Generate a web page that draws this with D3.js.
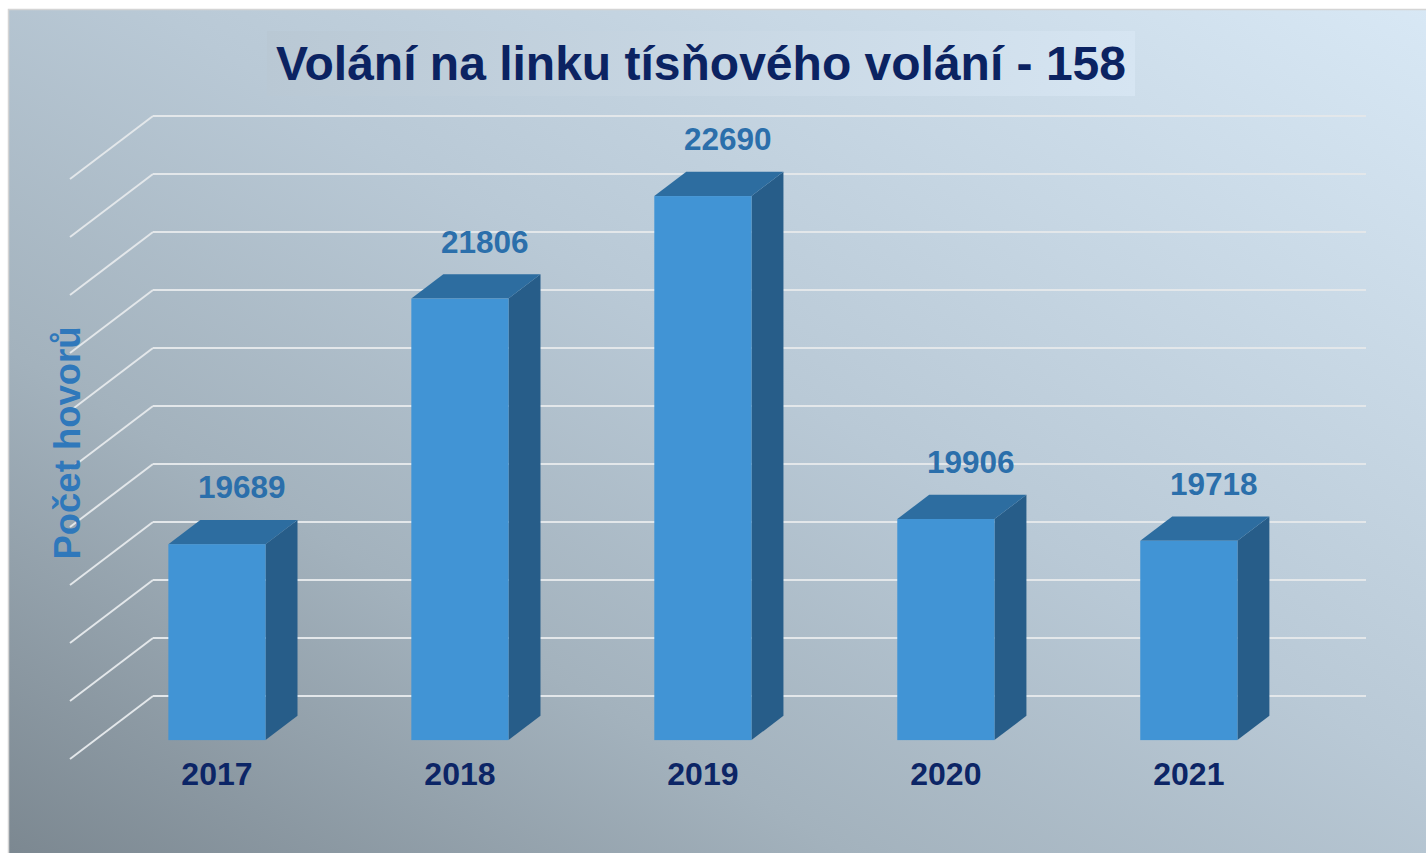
<!DOCTYPE html>
<html>
<head>
<meta charset="utf-8">
<script src="https://cdn.jsdelivr.net/npm/d3@7"></script>
<style>
  body { margin: 0; background: #fff; }
  svg { display: block; }
</style>
</head>
<body>
<script>
// data
var years = ["2017", "2018", "2019", "2020", "2021"];
var calls = [19689, 21806, 22690, 19906, 19718];
var title = "Volání na linku tísňového volání - 158";
var yLabel = "Počet hovorů";

var W = 1426, H = 853;

var svg = d3.select("body").append("svg")
    .attr("width", W)
    .attr("height", H);

var defs = svg.append("defs");

// background gradient, dark bottom-left to light top-right
var bg = defs.append("linearGradient")
    .attr("id", "bg")
    .attr("x1", "0%").attr("y1", "100%")
    .attr("x2", "100%").attr("y2", "0%");
bg.append("stop").attr("offset", "0%").attr("stop-color", "#7b8790");
bg.append("stop").attr("offset", "30%").attr("stop-color", "#a3b2bd");
bg.append("stop").attr("offset", "55%").attr("stop-color", "#b9c9d6");
bg.append("stop").attr("offset", "100%").attr("stop-color", "#d8e8f5");

var tg = defs.append("linearGradient")
    .attr("id", "titlebg")
    .attr("x1", "0%").attr("y1", "0%")
    .attr("x2", "100%").attr("y2", "0%");
tg.append("stop").attr("offset", "0%").attr("stop-color", "#b9c8d4");
tg.append("stop").attr("offset", "100%").attr("stop-color", "#d6e5f2");

svg.append("rect")
    .attr("x", 8.5).attr("y", 9.5)
    .attr("width", W).attr("height", H)
    .style("fill", "url(#bg)")
    .style("stroke", "#d4d4d4")
    .style("stroke-width", 1.5);

// scales (front plane of the 3D box)
var x = d3.scaleBand()
    .domain(years)
    .range([73, 1283])
    .paddingInner(0.6)
    .paddingOuter(0.29);

var y = d3.scaleLinear()
    .domain([18000, 23000])
    .range([759, 179]);

// depth projection
var DX = 83, DY = -63;
function px(xv, z) { return xv + z * DX; }
function py(v, z) { return y(v) + z * DY; }

var z0 = 0.3, z1 = 0.685;
var left = 70, right = 1283;

// gridlines: side diagonal + back wall
var grid = svg.append("g");
y.ticks(10).forEach(function(t) {
  grid.append("line")
      .attr("x1", px(left, 0)).attr("y1", py(t, 0))
      .attr("x2", px(left, 1)).attr("y2", py(t, 1))
      .style("stroke", "#e3e7ea")
      .style("stroke-width", 2);
  grid.append("line")
      .attr("x1", px(left, 1)).attr("y1", py(t, 1))
      .attr("x2", px(right, 1)).attr("y2", py(t, 1))
      .style("stroke", "#e3e7ea")
      .style("stroke-width", 2);
});

// bars
var data = years.map(function(d, i) { return {year: d, value: calls[i]}; });
var base = y.domain()[0];
var bw = x.bandwidth();

var bars = svg.append("g").selectAll("g")
    .data(data)
    .enter().append("g");

// side face
bars.append("path")
    .style("fill", "#275d89")
    .attr("d", function(d) {
      var xr = x(d.year) + bw;
      return "M" + px(xr, z0) + "," + py(base, z0) +
             "L" + px(xr, z1) + "," + py(base, z1) +
             "L" + px(xr, z1) + "," + py(d.value, z1) +
             "L" + px(xr, z0) + "," + py(d.value, z0) + "Z";
    });

// top face
bars.append("path")
    .style("fill", "#2d6da0")
    .attr("d", function(d) {
      var xl = x(d.year), xr = xl + bw;
      return "M" + px(xl, z0) + "," + py(d.value, z0) +
             "L" + px(xl, z1) + "," + py(d.value, z1) +
             "L" + px(xr, z1) + "," + py(d.value, z1) +
             "L" + px(xr, z0) + "," + py(d.value, z0) + "Z";
    });

// front face
bars.append("rect")
    .style("fill", "#4194d5")
    .attr("x", function(d) { return px(x(d.year), z0); })
    .attr("y", function(d) { return py(d.value, z0); })
    .attr("width", bw)
    .attr("height", function(d) { return py(base, z0) - py(d.value, z0); });

// value labels
bars.append("text")
    .attr("x", function(d) { return px(x(d.year) + bw / 2, 0.6); })
    .attr("y", function(d) { return py(d.value, 0.6) - 27; })
    .attr("font-family", "Liberation Sans, Arial, sans-serif")
    .attr("font-weight", "bold")
    .attr("font-size", 31.5)
    .style("text-anchor", "middle")
    .style("fill", "#2b6fab")
    .text(function(d) { return d.value; });

// category labels
bars.append("text")
    .attr("x", function(d) { return px(x(d.year) + bw / 2, z0); })
    .attr("y", 785)
    .attr("font-family", "Liberation Sans, Arial, sans-serif")
    .attr("font-weight", "bold")
    .attr("font-size", 32)
    .style("text-anchor", "middle")
    .style("fill", "#0c2566")
    .text(function(d) { return d.year; });

// y axis label
svg.append("text")
    .attr("transform", "rotate(-90)")
    .attr("x", -443)
    .attr("y", 80)
    .attr("font-family", "Liberation Sans, Arial, sans-serif")
    .attr("font-weight", "bold")
    .attr("font-size", 36.5)
    .style("text-anchor", "middle")
    .style("fill", "#2f78bb")
    .text(yLabel);

// title
svg.append("rect")
    .attr("x", 267).attr("y", 31)
    .attr("width", 868).attr("height", 65)
    .style("fill", "url(#titlebg)");
svg.append("text")
    .attr("x", 701)
    .attr("y", 80)
    .attr("font-family", "Liberation Sans, Arial, sans-serif")
    .attr("font-weight", "bold")
    .attr("font-size", 48)
    .style("text-anchor", "middle")
    .style("fill", "#0b2362")
    .text(title);
</script>
</body>
</html>
